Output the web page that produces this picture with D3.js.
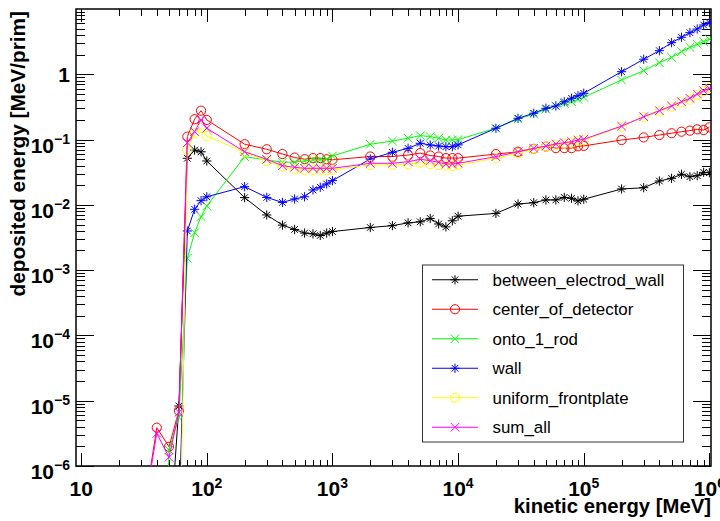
<!DOCTYPE html>
<html><head><meta charset="utf-8">
<script src="https://cdn.jsdelivr.net/npm/d3@7"></script>
<style>body{margin:0;background:#fff}svg{display:block}</style>
</head><body><svg id="c" width="720" height="521"></svg>
<script>
const energies = [30,40,50,60,70,80,90,100,200,300,400,500,600,700,800,900,1e3,2e3,3e3,4e3,5e3,6e3,7e3,8e3,9e3,1e4,2e4,3e4,4e4,5e4,6e4,7e4,8e4,9e4,1e5,2e5,3e5,4e5,5e5,6e5,7e5,8e5,9e5,1e6];
const betweenElectrodWall = [1e-9,1e-9,5e-8,8.3e-6,0.0517,0.069,0.065,0.047, 0.0129,0.0070,0.0049,0.0042,0.0037,0.0036,0.0034,0.0037, 0.0039,0.0045,0.0048,0.0053,0.0055,0.0062,0.0051,0.0046,0.0057, 0.0067,0.0074,0.0103,0.0108,0.0119,0.0119,0.0130,0.0126,0.0115, 0.0122,0.0175,0.0183,0.0232,0.0255,0.0294,0.0270,0.0280,0.0315, 0.0311];
const centerOfDetector = [1.1e-7,3.86e-6,1.97e-6,7.0e-6,0.111,0.205,0.277,0.200, 0.085,0.071,0.060,0.053,0.050,0.052,0.052,0.050, 0.049,0.055,0.055,0.058,0.062,0.057,0.055,0.052,0.052, 0.052,0.060,0.065,0.072,0.078,0.074,0.074,0.074,0.079, 0.080,0.0985,0.108,0.1175,0.125,0.132,0.137,0.1436,0.140, 0.154];
const onto1Rod = [1e-12,1e-12,1.76e-6,5.57e-6,0.00152,0.00374,0.0066,0.0096, 0.0547,0.049,0.045,0.045,0.047,0.049,0.049,0.050, 0.056,0.0847,0.095,0.105,0.115,0.111,0.105,0.0985,0.0985, 0.100,0.149,0.207,0.246,0.291,0.327,0.360,0.380,0.414, 0.444,0.818,1.135,1.505,1.82,2.22,2.59,2.88,3.16, 3.44];
const wall = [1e-9,1e-9,1e-9,1.4e-7,0.00398,0.00855,0.0116,0.0133, 0.019,0.013,0.0109,0.0123,0.0133,0.0169,0.0186,0.0209, 0.0235,0.0504,0.0638,0.0735,0.0877,0.0826,0.0797,0.0778,0.0778, 0.083,0.149,0.212,0.253,0.301,0.327,0.380,0.429,0.470, 0.512,1.096,1.70,2.30,3.05,3.69,4.34,4.94,5.69, 6.17];
const uniformFrontplate = [1e-9,1e-9,1e-9,5e-9,0.069,0.125,0.152,0.113, 0.064,0.047,0.0384,0.035,0.0342,0.0342,0.0342,0.0342, 0.0345,0.0408,0.0408,0.042,0.0442,0.042,0.0408,0.0398,0.0394, 0.0408,0.052,0.062,0.071,0.078,0.083,0.087,0.090,0.096, 0.098,0.158,0.220,0.270,0.320,0.370,0.410,0.480,0.550, 0.620];
const sumAll = [1.1e-7,3.16e-6,1.36e-6,6.64e-6,0.0895,0.132,0.200,0.149, 0.065,0.0499,0.0398,0.0376,0.0363,0.0363,0.0363,0.0363, 0.0363,0.0433,0.0433,0.0458,0.0499,0.0475,0.0449,0.0422,0.0422, 0.0433,0.0547,0.0652,0.0735,0.0797,0.0855,0.0896,0.0928,0.0985, 0.101,0.161,0.224,0.277,0.327,0.380,0.429,0.499,0.561, 0.611];

const seriesNames = ["between_electrod_wall","center_of_detector","onto_1_rod","wall","uniform_frontplate","sum_all"];
const seriesValues = [betweenElectrodWall, centerOfDetector, onto1Rod, wall, uniformFrontplate, sumAll];
const seriesColors = ["#000000","#ff0000","#00ff00","#0000ff","#ffff00","#ff00ff"];
const seriesMarkers = ["star","circle","x","star","circle","x"];

const xMajorExp = [1,2,3,4,5,6];
const yMajorExp = [-6,-5,-4,-3,-2,-1,0];
const xTitle = "kinetic energy [MeV]";
const yTitle = "deposited energy [MeV/prim]";

const svg = d3.select("#c");
const L = 76, R = 711, T = 9, B = 466;
const x = d3.scaleLog().domain([9.1, 1.03e6]).range([L, R]);
const y = d3.scaleLog().domain([1e-6, 10]).range([B, T]);

svg.append("rect").attr("width",720).attr("height",521).attr("fill","#fff");

const xMajor = xMajorExp.map(e => Math.pow(10, e));
const xMinor = [];
for (let e = 0; e <= 6; e++) for (let k = 2; k <= 9; k++) { const v = k*Math.pow(10,e); if (v > 9.1 && v < 1.03e6) xMinor.push(v); }
const yMajor = yMajorExp.map(e => Math.pow(10, e));
const yMinor = [];
for (let e = -6; e <= 0; e++) for (let k = 2; k <= 9; k++) yMinor.push(k*Math.pow(10,e));

function styleAxis(g){ g.select(".domain").remove(); g.selectAll("line").attr("stroke","#000").attr("stroke-width",1).attr("shape-rendering","crispEdges"); g.selectAll("text").remove(); }

svg.append("g").attr("transform",`translate(0,${B})`).call(d3.axisBottom(x).tickValues(xMajor).tickSize(-13).tickFormat("")).call(styleAxis);
svg.append("g").attr("transform",`translate(0,${B})`).call(d3.axisBottom(x).tickValues(xMinor).tickSize(-6.5).tickFormat("")).call(styleAxis);
svg.append("g").attr("transform",`translate(0,${T})`).call(d3.axisTop(x).tickValues(xMajor).tickSize(-13).tickFormat("")).call(styleAxis);
svg.append("g").attr("transform",`translate(0,${T})`).call(d3.axisTop(x).tickValues(xMinor).tickSize(-6.5).tickFormat("")).call(styleAxis);
svg.append("g").attr("transform",`translate(${L},0)`).call(d3.axisLeft(y).tickValues(yMajor).tickSize(-18).tickFormat("")).call(styleAxis);
svg.append("g").attr("transform",`translate(${L},0)`).call(d3.axisLeft(y).tickValues(yMinor).tickSize(-9).tickFormat("")).call(styleAxis);
svg.append("g").attr("transform",`translate(${R},0)`).call(d3.axisRight(y).tickValues(yMajor).tickSize(-18).tickFormat("")).call(styleAxis);
svg.append("g").attr("transform",`translate(${R},0)`).call(d3.axisRight(y).tickValues(yMinor).tickSize(-9).tickFormat("")).call(styleAxis);

svg.append("rect").attr("x",L).attr("y",T).attr("width",R-L).attr("height",B-T)
  .attr("fill","none").attr("stroke","#000").attr("stroke-width",1.5);

const fontB = "'Liberation Sans', Arial, Helvetica, sans-serif";

xMajorExp.forEach(e => {
  const t = svg.append("text").attr("x", x(Math.pow(10,e))).attr("y", 496)
    .attr("text-anchor","middle").attr("font-family",fontB).attr("font-weight","bold").attr("font-size",21).attr("fill","#000");
  t.append("tspan").text("10");
  if (e !== 1) t.append("tspan").attr("font-size",14).attr("dy",-8).text(String(e));
});
yMajorExp.forEach(e => {
  const yy = y(Math.pow(10,e));
  const t = svg.append("text").attr("x", 70).attr("text-anchor","end")
    .attr("font-family",fontB).attr("font-weight","bold").attr("font-size",21).attr("fill","#000");
  if (e === 0) { t.attr("y", yy + 8).text("1"); }
  else {
    t.attr("y", yy + 13);
    t.append("tspan").text("10");
    t.append("tspan").attr("font-size",14).attr("dy",-9).text("\u2212" + Math.abs(e));
  }
});

svg.append("text").attr("x",711).attr("y",513).attr("text-anchor","end")
  .attr("font-family",fontB).attr("font-weight","bold").attr("font-size",20.3).text(xTitle);
svg.append("text").attr("transform","translate(25,11) rotate(-90)").attr("text-anchor","end")
  .attr("font-family",fontB).attr("font-weight","bold").attr("font-size",20.8).text(yTitle);

svg.append("defs").append("clipPath").attr("id","plotclip").append("rect")
  .attr("x",L).attr("y",T).attr("width",R-L).attr("height",B-T);
const plot = svg.append("g").attr("clip-path","url(#plotclip)");

function markerPath(type, s){
  if (type === "star") { const d = s*0.72; return `M${-s},0L${s},0M0,${-s}L0,${s}M${-d},${-d}L${d},${d}M${-d},${d}L${d},${-d}`; }
  return `M${-s},${-s}L${s},${s}M${-s},${s}L${s},${-s}`;
}
function drawMarker(g, type, color, cx, cy){
  if (type === "circle") g.append("circle").attr("cx",cx).attr("cy",cy).attr("r",4.6).attr("fill","none").attr("stroke",color).attr("stroke-width",1);
  else g.append("path").attr("d", markerPath(type, type==="star"?4.6:4.3)).attr("transform",`translate(${cx},${cy})`).attr("fill","none").attr("stroke",color).attr("stroke-width",1);
}

const line = d3.line().x(d => x(d[0])).y(d => y(d[1]));
seriesValues.forEach((vals, i) => {
  const pts = energies.map((e, j) => [e, vals[j]]);
  plot.append("path").attr("d", line(pts)).attr("fill","none").attr("stroke",seriesColors[i]).attr("stroke-width",1);
  const mg = plot.append("g");
  pts.forEach(p => { if (p[1] >= 1e-6) drawMarker(mg, seriesMarkers[i], seriesColors[i], x(p[0]), y(p[1])); });
});

const lg = svg.append("g");
const lx0 = 422.5, ly0 = 265, lw = 261, lh = 177;
lg.append("rect").attr("x",lx0).attr("y",ly0).attr("width",lw).attr("height",lh).attr("fill","#fff").attr("stroke","#333").attr("stroke-width",1);
const rowH = lh / seriesNames.length;
seriesNames.forEach((n, i) => {
  const cy = ly0 + rowH*(i+0.5);
  lg.append("line").attr("x1",432).attr("x2",478).attr("y1",cy).attr("y2",cy).attr("stroke",seriesColors[i]).attr("stroke-width",1);
  drawMarker(lg, seriesMarkers[i], seriesColors[i], 455, cy);
  lg.append("text").attr("x",492.5).attr("y",cy+6).attr("font-family",fontB).attr("font-size",16.9).attr("fill","#000").text(n);
});
</script></body></html>
